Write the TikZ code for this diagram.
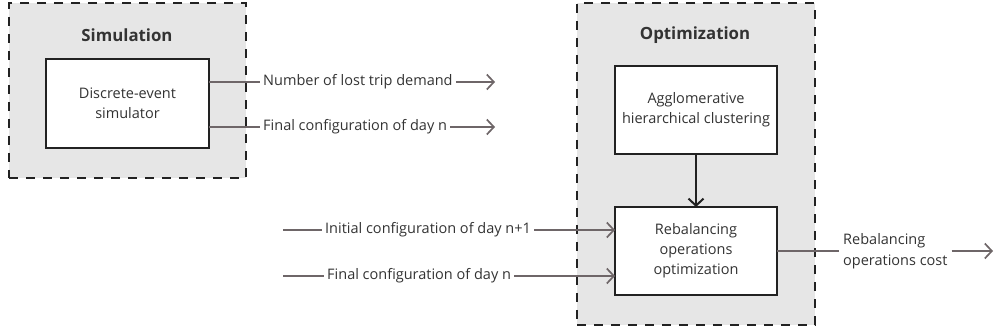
\documentclass[tikz,border=0pt]{standalone}
\usepackage{fontspec}
\setmainfont{Open Sans}
\usetikzlibrary{arrows.meta}
\definecolor{boxfill}{HTML}{E6E6E6}
\definecolor{flow}{HTML}{6E6668}
\definecolor{txt}{HTML}{333333}
\definecolor{edge}{HTML}{222222}
\begin{document}
\begin{tikzpicture}[x=1pt,y=-1pt,
 group/.style={draw=edge, fill=boxfill, dash pattern=on 9pt off 8pt, line width=2.6pt, outer sep=0pt, inner sep=0pt},
 proc/.style={draw=edge, fill=white, line width=2pt, outer sep=0pt, align=center, font=\fontsize{14.5}{20}\selectfont, text=txt},
 grptitle/.style={font=\fontsize{16.8}{20}\selectfont\bfseries, text=txt},
 lbl/.style={font=\fontsize{14.5}{17}\selectfont, text=txt, inner sep=3pt, text height=10.5pt, text depth=3.5pt},
 flowline/.style={draw=flow, line width=1.7pt},
 flowarrow/.style={flowline, -{Straight Barb[length=7pt,width=15pt,line width=1.7pt]}},
 mainarrow/.style={draw=edge, line width=2pt, -{Straight Barb[length=7pt,width=15pt,line width=2pt]}},
]
\useasboundingbox (0,0) rectangle (994,336);
% groups
\node[group, minimum width=237, minimum height=175] (simgrp) at (127.5,90.5) {};
\node[group, minimum width=238, minimum height=322] (optgrp) at (696,164) {};
\node[grptitle] (simtitle) at (127,35) {Simulation};
\node[grptitle] (opttitle) at (695,35) {Optimization};
% process boxes
\node[proc, minimum width=163, minimum height=89] (sim) at (127.5,103.5) {Discrete-event\\simulator};
\node[proc, minimum width=162, minimum height=88] (agg) at (696,110) {Agglomerative\\hierarchical clustering};
\node[proc, minimum width=162, minimum height=88] (reb) at (696,251) {Rebalancing\\operations\\optimization};
% simulation outputs
\node[lbl, anchor=west] (lost) at (260,82) {Number of lost trip demand};
\node[lbl, anchor=west] (finout) at (260,127) {Final configuration of day n};
\coordinate (lostend) at (495,82);
\coordinate (finoutend) at (495,127);
\draw[flowline] (sim.east |- lost.west) -- (lost.west);
\draw[flowarrow] (lost.east) -- (lostend);
\draw[flowline] (sim.east |- finout.west) -- (finout.west);
\draw[flowarrow] (finout.east) -- (finoutend);
% optimization inputs
\coordinate (initstart) at (283,230);
\coordinate (finstart) at (283,276);
\node[lbl, anchor=west] (init) at (322,230) {Initial configuration of day n+1};
\node[lbl, anchor=west] (finin) at (324,276) {Final configuration of day n};
\draw[flowline] (initstart) -- (init.west);
\draw[flowarrow] (init.east) -- (reb.west |- init.east);
\draw[flowline] (finstart) -- (finin.west);
\draw[flowarrow] (finin.east) -- (reb.west |- finin.east);
% clustering to optimization
\draw[mainarrow] (agg.south) -- (reb.north);
% output cost
\node[font=\fontsize{14.5}{21}\selectfont, text=txt, align=left, inner sep=4pt, anchor=west] (cost) at (839,251) {Rebalancing\\operations cost};
\coordinate (costend) at (993,251);
\draw[flowline] (reb.east) -- (cost.west);
\draw[flowarrow] (cost.east) -- (costend);
\end{tikzpicture}
\end{document}
